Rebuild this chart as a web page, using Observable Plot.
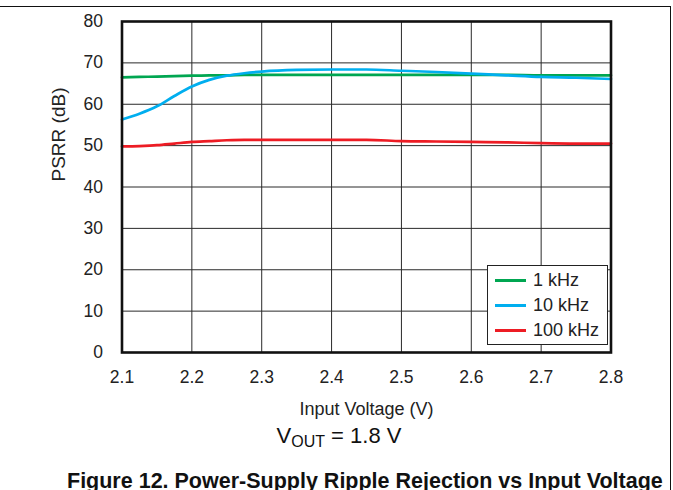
<!DOCTYPE html>
<html>
<head>
<meta charset="utf-8">
<script src="https://cdn.jsdelivr.net/npm/d3@7"></script>
<script src="https://cdn.jsdelivr.net/npm/@observablehq/plot@0.6"></script>
<style>
  html, body { margin: 0; padding: 0; background: #fff; }
  body { font-family: "Liberation Sans", Arial, sans-serif; color: #222; }
  #wrap { position: relative; width: 673px; height: 490px; overflow: hidden; }
  #border { position: absolute; left: -5px; top: 6px; width: 675px; height: 500px;
            border-top: 1.5px solid #111; border-right: 1.5px solid #111; }
  #chart { position: absolute; left: 0; top: 0; }
  #legend { position: absolute; left: 486.5px; top: 265px; width: 121px; height: 80px;
            border: 1px solid #222; background: #fff; box-sizing: border-box; }
  .row { position: absolute; left: 7.5px; height: 20px; display: flex; align-items: center;
         font-size: 18px; color: #222; white-space: nowrap; }
  .sw { width: 31px; height: 3px; margin-right: 7px; }
  #vout { position: absolute; left: 239px; width: 200px; top: 422.5px; text-align: center;
          font-size: 22px; line-height: 25px; color: #111; white-space: nowrap; }
  #vout sub { font-size: 16px; vertical-align: baseline; position: relative; top: 4px; }
  #caption { position: absolute; left: 67px; top: 468.5px; line-height: 25px;
             font-size: 21.5px; font-weight: bold; color: #111; white-space: nowrap; }
</style>
</head>
<body>
<div id="wrap">
  <div id="border"></div>
  <div id="chart"></div>
  <div id="legend"></div>
  <div id="vout">V<sub>OUT</sub> = 1.8 V</div>
  <div id="caption">Figure 12. Power-Supply Ripple Rejection vs Input Voltage</div>
</div>
<script>
// Data
const voltage = [2.1, 2.125, 2.15, 2.175, 2.2, 2.225, 2.25, 2.275, 2.3, 2.35, 2.4, 2.45, 2.5, 2.55, 2.6, 2.65, 2.7, 2.75, 2.8];
const psrr1k   = [66.5, 66.6, 66.7, 66.8, 66.9, 67.0, 67.0, 67.1, 67.1, 67.1, 67.1, 67.1, 67.1, 67.1, 67.1, 67.1, 67.0, 67.0, 67.0];
const psrr10k  = [56.3, 57.7, 59.5, 62.0, 64.3, 65.9, 66.9, 67.5, 67.9, 68.3, 68.4, 68.4, 68.1, 67.8, 67.4, 67.0, 66.6, 66.4, 66.1];
const psrr100k = [49.8, 49.9, 50.1, 50.5, 50.9, 51.1, 51.3, 51.4, 51.4, 51.4, 51.4, 51.4, 51.1, 51.0, 50.9, 50.8, 50.6, 50.5, 50.5];
const seriesNames = ["1 kHz", "10 kHz", "100 kHz"];
const seriesColors = ["#00a651", "#00aeef", "#ed1c24"];
const xTicks = [2.1, 2.2, 2.3, 2.4, 2.5, 2.6, 2.7, 2.8];
const yTicks = [0, 10, 20, 30, 40, 50, 60, 70, 80];
const xTitle = "Input Voltage (V)";
const yTitle = "PSRR (dB)";

const seriesValues = [psrr1k, psrr10k, psrr100k];
const data = seriesNames.flatMap((name, i) =>
  voltage.map((v, j) => ({series: name, v, psrr: seriesValues[i][j]})));

const chart = Plot.plot({
  width: 673,
  height: 425,
  marginTop: 21,
  marginLeft: 121.5,
  marginRight: 62.5,
  marginBottom: 73,
  style: {fontFamily: "Liberation Sans, Arial, sans-serif", fontSize: "17.5px", color: "#222", background: "transparent"},
  x: {domain: [2.1, 2.8], ticks: xTicks, tickFormat: d3.format(".1f"), tickSize: 0, tickPadding: 18, label: null},
  y: {domain: [0, 80], ticks: yTicks, tickSize: 0, tickPadding: 19, label: null},
  color: {domain: seriesNames, range: seriesColors},
  marks: [
    Plot.gridX(xTicks, {stroke: "#2a2a2a", strokeOpacity: 1, strokeWidth: 1}),
    Plot.gridY(yTicks, {stroke: "#2a2a2a", strokeOpacity: 1, strokeWidth: 1}),
    Plot.line(data, {x: "v", y: "psrr", z: "series", stroke: "series", strokeWidth: 2.7, curve: "monotone-x"}),
    Plot.frame({stroke: "#111", strokeWidth: 2.6}),
    Plot.text([xTitle], {frameAnchor: "bottom", dy: 57, lineAnchor: "middle", fontSize: 18, fill: "#222"}),
    Plot.text([yTitle], {frameAnchor: "left", rotate: -90, dx: -63, dy: -5.5, lineAnchor: "middle", fontSize: 19, fill: "#222"})
  ]
});
document.getElementById("chart").appendChild(chart);

// Legend (inside the plot frame, as in the reference)
const legend = document.getElementById("legend");
seriesNames.forEach((name, i) => {
  const row = document.createElement("div");
  row.className = "row";
  row.style.top = (4 + i * 25) + "px";
  const sw = document.createElement("span");
  sw.className = "sw";
  sw.style.background = seriesColors[i];
  const label = document.createElement("span");
  label.textContent = name;
  row.appendChild(sw);
  row.appendChild(label);
  legend.appendChild(row);
});
</script>
</body>
</html>
